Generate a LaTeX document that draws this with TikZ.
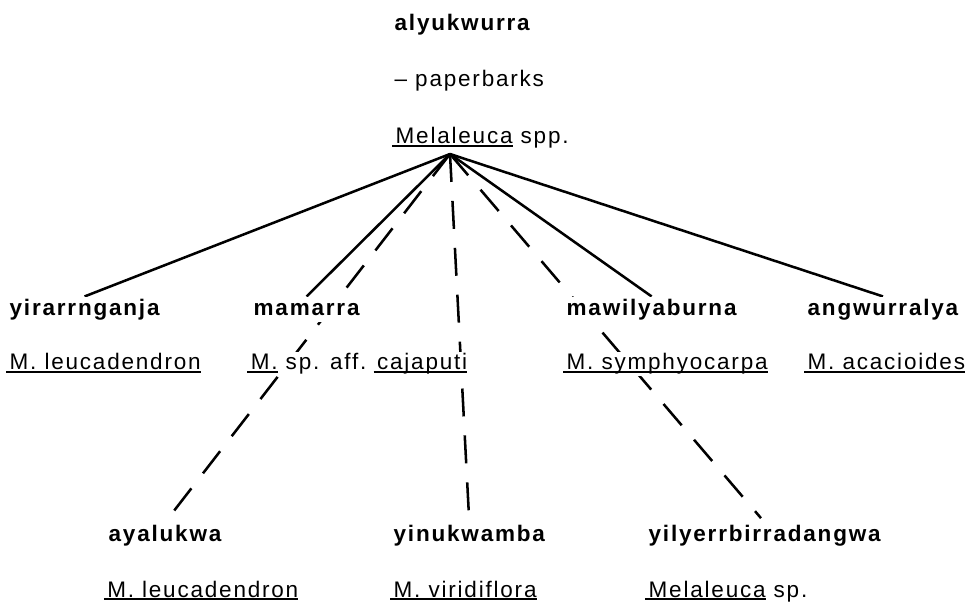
\documentclass[tikz,border=0pt]{standalone}
\usepackage{fontspec}
\setmainfont{Liberation Sans}[LetterSpace=8]
\usetikzlibrary{positioning,backgrounds}
\newsavebox\soulbox
\newcommand\souligne[1]{\sbox\soulbox{#1}\rlap{\hspace*{-2.5pt}\rule[-2.3pt]{\dimexpr\wd\soulbox+2.5pt\relax}{1.5pt}}\usebox\soulbox}

\begin{document}
\begin{tikzpicture}[x=0.025cm,y=-0.025cm,
  nom/.style={font=\fontsize{16}{19}\selectfont\bfseries,fill=white,inner sep=1pt,text height=12pt,text depth=3.7pt,anchor=base west},
  espece/.style={font=\fontsize{16}{19}\selectfont,fill=white,inner sep=1pt,text height=12pt,text depth=3.7pt},
  lien/.style={line width=1.8pt},
  tiret/.style={lien,dash pattern=on 19.9pt off 13.5pt,shorten >=4pt}]
\useasboundingbox (0,0) rectangle (976,604);
% genre
\node[nom] (alyuk) at (393,31) {alyukwurra};
\node[espece,anchor=base west] (paper) at (393,87) {\textendash{} paperbarks};
\node[espece,anchor=base west] (mel) at (394,144) {\souligne{Melaleuca} spp.};
\coordinate (apex) at (450,154);
% premier rang
\node[nom] (yir) at (8,315) {yirarrnganja};
\node[espece,below=1.37cm of yir.base west,anchor=base west] (yirsp) {\souligne{M. leucadendron}};
\node[nom] (mam) at (252,315) {mamarra};
\node[espece,below=1.37cm of mam.base west,xshift=-2pt,anchor=base west] (mamsp) {\souligne{M.} sp. aff. \souligne{cajaputi}};
\node[nom] (maw) at (565,315) {mawilyaburna};
\node[espece,below=1.37cm of maw.base west,anchor=base west] (mawsp) {\souligne{M. symphyocarpa}};
\node[nom] (ang) at (806,315) {angwurralya};
\node[espece,below=1.37cm of ang.base west,anchor=base west] (angsp) {\souligne{M. acacioides}};
% second rang
\node[nom] (aya) at (107,541) {ayalukwa};
\node[espece,below=1.4cm of aya.base west,xshift=-1pt,anchor=base west] (ayasp) {\souligne{M. leucadendron}};
\node[nom] (yin) at (392,541) {yinukwamba};
\node[espece,below=1.4cm of yin.base west,anchor=base west] (yinsp) {\souligne{M. viridiflora}};
\node[nom] (yil) at (647,541) {yilyerrbirradangwa};
\node[espece,below=1.4cm of yil.base west,anchor=base west] (yilsp) {\souligne{Melaleuca} sp.};
% liens
\begin{scope}[on background layer]
\draw[lien] (apex) -- (yir.north);
\draw[lien] (apex) -- (mam.north);
\draw[lien] (apex) -- (maw.north);
\draw[lien] (apex) -- (ang.north);
\draw[tiret] (apex) -- (aya.north);
\draw[tiret] (apex) -- (yin.north);
\draw[tiret] (apex) -- (yil.north);
\end{scope}
\end{tikzpicture}
\end{document}
